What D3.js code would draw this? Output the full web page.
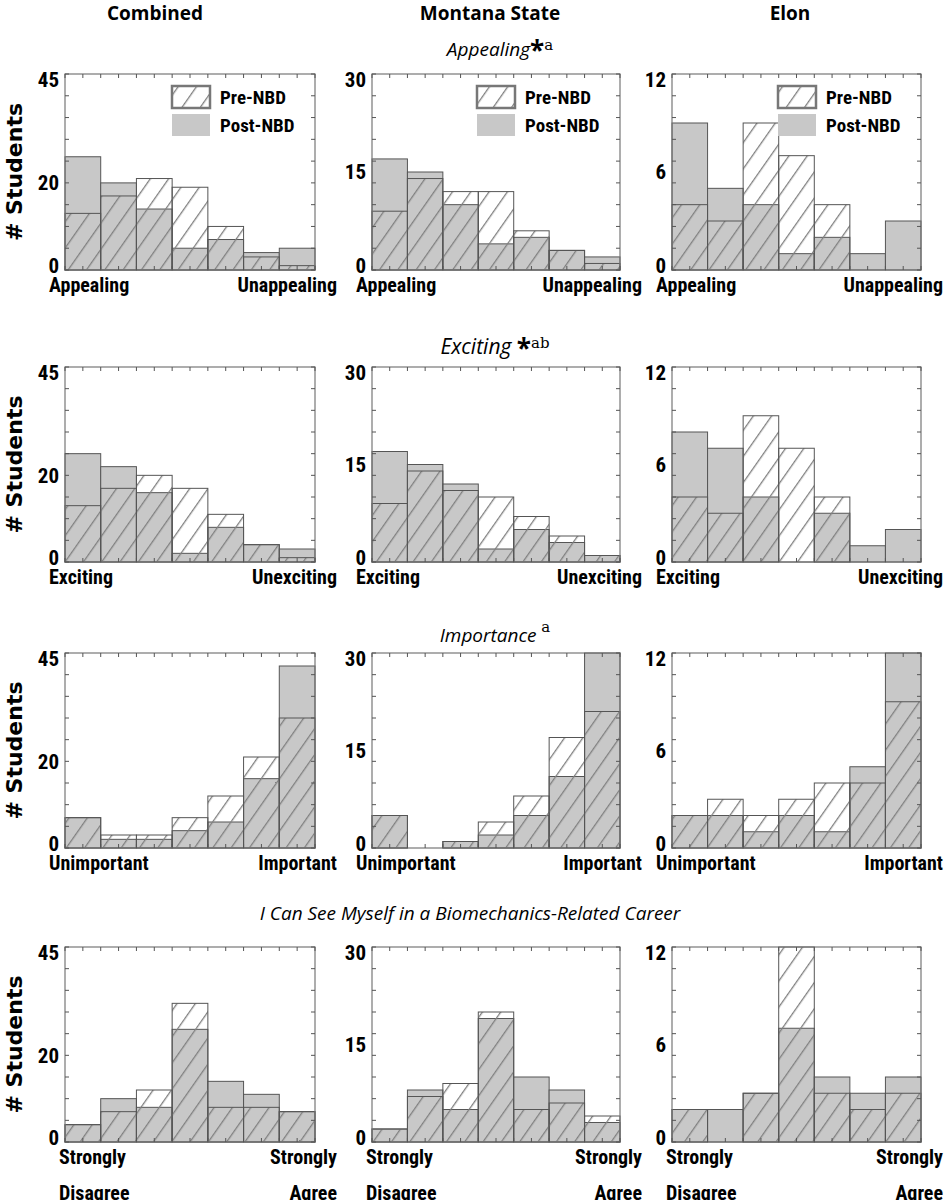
<!DOCTYPE html>
<html><head><meta charset="utf-8">
<script src="https://cdn.jsdelivr.net/npm/d3@7"></script>
<style>body{margin:0;background:#fff}</style>
</head><body>
<svg id="c" width="945" height="1200"></svg>
<script>
const columns = ["Combined", "Montana State", "Elon"];
const yMax = [45, 30, 12];
const yTicks = [[0, 20, 45], [0, 15, 30], [0, 6, 12]];
const rowLabels = [["Appealing", "Unappealing"], ["Exciting", "Unexciting"], ["Unimportant", "Important"], ["Strongly|Disagree", "Strongly|Agree"]];

// pre / post counts per row, per column (7 bins)
const appealPre  = [[13,17,21,19,10,3,1],[9,14,12,12,6,3,1],[4,3,9,7,4,0,0]];
const appealPost = [[26,20,14,5,7,4,5],[17,15,10,4,5,3,2],[9,5,4,1,2,1,3]];
const excitePre  = [[13,17,20,17,11,4,1],[9,14,11,10,7,4,1],[4,3,9,7,4,0,0]];
const excitePost = [[25,22,16,2,8,4,3],[17,15,12,2,5,3,1],[8,7,4,0,3,1,2]];
const importPre  = [[7,3,3,7,12,21,30],[5,0,1,4,8,17,21],[2,3,2,3,4,4,9]];
const importPost = [[7,2,2,4,6,16,42],[5,0,1,2,5,11,30],[2,2,1,2,1,5,12]];
const careerPre  = [[4,7,12,32,8,8,7],[2,7,9,20,5,6,4],[2,0,3,12,3,2,3]];
const careerPost = [[4,10,8,26,14,11,7],[2,8,5,19,10,8,3],[2,2,3,7,4,3,4]];

const preData = [appealPre, excitePre, importPre, careerPre];
const postData = [appealPost, excitePost, importPost, careerPost];

const svg = d3.select("#c");
const defs = svg.append("defs");
const pat = defs.append("pattern").attr("id","hatch").attr("patternUnits","userSpaceOnUse")
  .attr("width",15).attr("height",15).attr("patternTransform","rotate(35)");
pat.append("line").attr("x1",0).attr("y1",0).attr("x2",0).attr("y2",15).attr("stroke","#808080").attr("stroke-width",2.6);

const F = "'Liberation Sans Narrow','Roboto Condensed','Liberation Sans',sans-serif";
const colX = [[65,315],[372,620],[672,921]];
const rowY = [[74,270],[367,562],[653,848],[947,1142]];

columns.forEach((c,i)=>{
  svg.append("text").attr("x",[155,490,790][i]).attr("y",20).attr("text-anchor","middle")
    .attr("font-family","'Open Sans',sans-serif").attr("font-weight","bold").attr("font-size",19).text(c);
});

function title(y, x, parts){
  const t = svg.append("text").attr("x",x).attr("y",y).attr("text-anchor","middle");
  parts.forEach(p=>{
    const s = t.append("tspan").text(p.t).attr("font-family",p.f||"'Open Sans',sans-serif")
      .attr("font-size",p.s||19).attr("font-style",p.i?"italic":"normal").attr("font-weight",p.b?"bold":"normal");
    if(p.dy) s.attr("dy",p.dy);
  });
}
title(56,500,[{t:"Appealing",i:1},{t:"*",b:1,s:26,dy:4},{t:"a",f:"'DejaVu Serif',serif",s:15,dy:-10}]);
title(354,495,[{t:"Exciting ",i:1,s:21},{t:"*",b:1,s:26,dy:4},{t:"ab",f:"'DejaVu Serif',serif",s:15,dy:-10}]);
title(642,495,[{t:"Importance",i:1},{t:" a",f:"'DejaVu Serif',serif",s:15,dy:-10}]);
title(920,470,[{t:"I Can See Myself in a Biomechanics-Related Career",i:1}]);

for(let r=0;r<4;r++){
  const [y0,y1] = rowY[r];
  svg.append("text").attr("transform",`translate(22,${(y0+y1)/2}) rotate(-90)`).attr("text-anchor","middle")
    .attr("font-family","'DejaVu Sans',sans-serif").attr("font-weight","bold").attr("font-size",22).text("# Students");
  for(let c=0;c<3;c++){
    const [x0,x1] = colX[c];
    const g = svg.append("g");
    const x = d3.scaleBand().domain(d3.range(7)).range([x0,x1]).padding(0);
    const y = d3.scaleLinear().domain([0,yMax[c]]).range([y1,y0]);
    const pre = preData[r][c], post = postData[r][c];
    g.selectAll(".post").data(post).join("rect").attr("x",(d,i)=>x(i)).attr("width",x.bandwidth())
      .attr("y",d=>y(d)).attr("height",d=>y1-y(d)).attr("fill","#c8c8c8").attr("stroke","#555").attr("stroke-width",1);
    g.selectAll(".pre").data(pre).join("rect").attr("x",(d,i)=>x(i)).attr("width",x.bandwidth())
      .attr("y",d=>y(d)).attr("height",d=>y1-y(d)).attr("fill","url(#hatch)").attr("stroke","#555").attr("stroke-width",1);
    g.append("rect").attr("x",x0).attr("y",y0).attr("width",x1-x0).attr("height",y1-y0)
      .attr("fill","none").attr("stroke","#777").attr("stroke-width",1.2);
    d3.range(0,yMax[c]+0.001,yMax[c]/9).forEach(v=>{
      g.append("line").attr("x1",x0).attr("x2",x0+4).attr("y1",y(v)).attr("y2",y(v)).attr("stroke","#555");
      g.append("line").attr("x1",x1).attr("x2",x1-4).attr("y1",y(v)).attr("y2",y(v)).attr("stroke","#555");
    });
    d3.range(15).forEach(k=>{
      const xx = x0+(x1-x0)*k/14;
      g.append("line").attr("x1",xx).attr("x2",xx).attr("y1",y0).attr("y2",y0+4).attr("stroke","#555");
      g.append("line").attr("x1",xx).attr("x2",xx).attr("y1",y1).attr("y2",y1-4).attr("stroke","#555");
    });
    const ax = g.append("g").attr("transform",`translate(${x0},0)`)
      .call(d3.axisLeft(y).tickValues(yTicks[c]).tickSize(0).tickPadding(6));
    ax.select(".domain").remove();
    ax.selectAll("text").attr("font-family",F).attr("font-weight","bold").attr("font-size",21).attr("fill","#000")
      .attr("dy",(d)=>d===yMax[c]?"0.6em":d===0?"0.1em":"0.32em");
    const [lt, rt] = rowLabels[r];
    [[lt,"start",x0-16+(r===3?10:0)],[rt,"end",x1+22]].forEach(([t,a,xx])=>{
      t.split("|").forEach((ln,li)=>{
        g.append("text").attr("x",xx).attr("y",y1+22+li*36).attr("text-anchor",a)
          .attr("font-family",F).attr("font-weight","bold").attr("font-size",20).text(ln);
      });
    });
    if(r===0){
      const lx = x1-143;
      g.append("rect").attr("x",lx).attr("y",y0+12).attr("width",38).attr("height",22).attr("fill","url(#hatch)")
        .attr("stroke","#777").attr("stroke-width",2.5);
      g.append("rect").attr("x",lx).attr("y",y0+40).attr("width",38).attr("height",22).attr("fill","#c8c8c8");
      g.append("text").attr("x",lx+48).attr("y",y0+30).attr("font-family",F).attr("font-weight","bold").attr("font-size",19).text("Pre-NBD");
      g.append("text").attr("x",lx+48).attr("y",y0+58).attr("font-family",F).attr("font-weight","bold").attr("font-size",19).text("Post-NBD");
    }
  }
}
</script>
</body></html>
